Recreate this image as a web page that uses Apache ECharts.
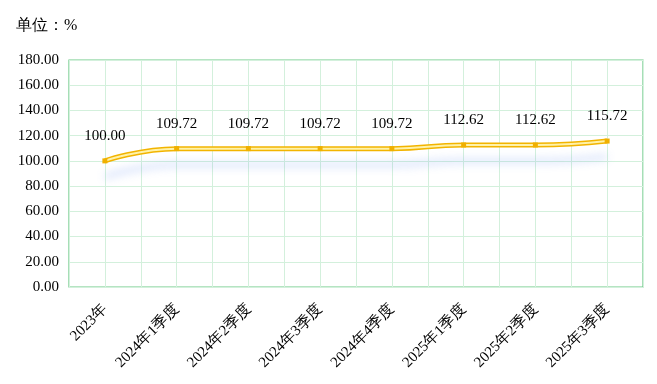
<!DOCTYPE html>
<html><head><meta charset="utf-8">
<script src="https://cdn.jsdelivr.net/npm/echarts@6/dist/echarts.min.js"></script>
<style>html,body{margin:0;padding:0;background:#fff}#c{width:657px;height:384px}</style>
</head><body><div id="c"></div>
<script>
const categories = ['2023年','2024年1季度','2024年2季度','2024年3季度','2024年4季度','2025年1季度','2025年2季度','2025年3季度'];
const values = [100.00,109.72,109.72,109.72,109.72,112.62,112.62,115.72];
const halfCats = categories.flatMap(c => [c + 'a', c + 'b']);
const yTicks = {min: 0, max: 180, interval: 20};
const FONT = "'Liberation Serif', 'Times New Roman', serif";
const chart = echarts.init(document.getElementById('c'));
chart.setOption({
  animation: false,
  title: {text: '单位：%', left: 11, top: 13, textStyle: {fontSize: 16, fontWeight: 'normal', color: '#000', fontFamily: FONT}},
  grid: {left: 69, right: 14, top: 60, bottom: 97, show: true, borderColor: '#6cc986', borderWidth: 1.2},
  xAxis: [
    {type: 'category', data: categories, boundaryGap: true,
     axisLine: {show: false}, axisTick: {show: false}, splitLine: {show: false},
     axisLabel: {interval: 0, rotate: 45, margin: 20, fontSize: 15, color: '#000', fontFamily: FONT}},
    {type: 'category', data: halfCats, boundaryGap: true, position: 'bottom',
     axisLine: {show: false}, axisTick: {show: false}, axisLabel: {show: false},
     splitLine: {show: true, interval: 0, lineStyle: {color: '#d3f0dc', width: 1}}}
  ],
  yAxis: {type: 'value', min: yTicks.min, max: yTicks.max, interval: yTicks.interval,
    axisLine: {show: false}, axisTick: {show: false},
    splitLine: {show: true, lineStyle: {color: '#d3f0dc', width: 1}},
    axisLabel: {margin: 10, fontSize: 15, color: '#000', fontFamily: FONT, formatter: v => v.toFixed(2)}},
  series: [
    {type: 'line', data: values, smooth: true, symbol: 'none', z: 2,
     lineStyle: {width: 5, color: '#f2b400', shadowColor: 'rgba(110,150,240,0.28)', shadowBlur: 9, shadowOffsetY: 16}},
    {type: 'line', data: values, smooth: true, symbol: 'rect', symbolSize: 5, z: 3,
     itemStyle: {color: '#f0b000'},
     lineStyle: {width: 2, color: '#fff2a8'},
     label: {show: true, position: 'top', distance: 15, fontSize: 15, color: '#000', fontFamily: FONT,
       formatter: p => p.value.toFixed(2)}}
  ]
});
</script></body></html>
